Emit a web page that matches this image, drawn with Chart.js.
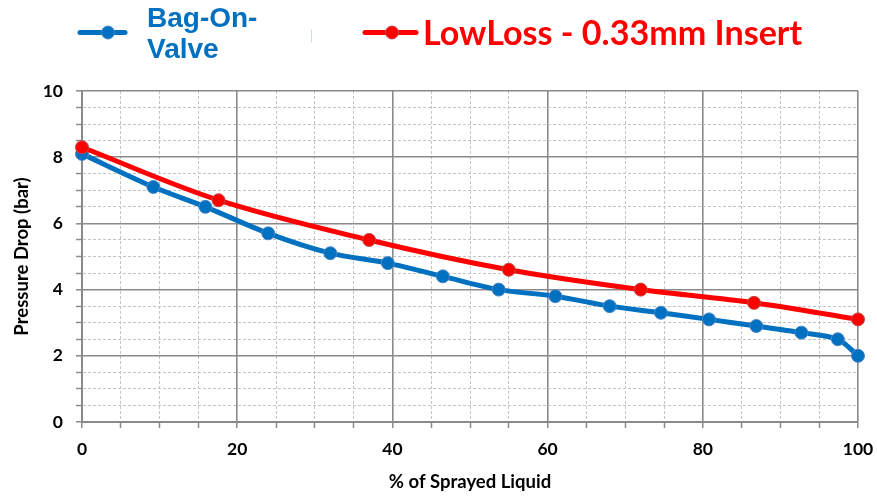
<!DOCTYPE html>
<html>
<head>
<meta charset="utf-8">
<script src="https://cdn.jsdelivr.net/npm/chart.js@4/dist/chart.umd.min.js"></script>
<style>
  html, body { margin: 0; padding: 0; background: #ffffff; }
  #wrap { position: relative; width: 877px; height: 498px; }
</style>
</head>
<body>
<div id="wrap"><canvas id="c" width="877" height="498"></canvas></div>
<script>
// ---- data ----
const seriesNames = ["Bag-On-Valve", "LowLoss - 0.33mm Insert"];
const bovX = [0, 9.2, 15.9, 24.0, 32.0, 39.4, 46.5, 53.7, 61.0, 68.0, 74.6, 80.8, 86.9, 92.7, 97.4, 100];
const bovY = [8.1, 7.1, 6.5, 5.7, 5.1, 4.8, 4.4, 4.0, 3.8, 3.5, 3.3, 3.1, 2.9, 2.7, 2.5, 2.0];
const llX = [0, 17.6, 37.0, 55.0, 72.0, 86.6, 100];
const llY = [8.3, 6.7, 5.5, 4.6, 4.0, 3.6, 3.1];
const xTitle = "% of Sprayed Liquid";
const yTitle = "Pressure Drop (bar)";

const BLUE = "#0070C0";
const RED = "#FF0000";
const MAJOR = "#8a8a8a";
const MINOR = "#c4c4c4";
const FONT = "Lato, 'Open Sans', sans-serif";

const toPts = (xs, ys) => xs.map((x, i) => ({ x: x, y: ys[i] }));

// custom legend drawn at top
const topLegend = {
  id: "topLegend",
  afterDraw(chart) {
    const ctx = chart.ctx;
    ctx.save();
    // Bag-On-Valve
    ctx.lineCap = "round";
    ctx.strokeStyle = BLUE; ctx.lineWidth = 5;
    ctx.beginPath(); ctx.moveTo(80, 32.5); ctx.lineTo(125, 32.5); ctx.stroke();
    ctx.fillStyle = BLUE; ctx.strokeStyle = "#4d86c6"; ctx.lineWidth = 1;
    ctx.beginPath(); ctx.arc(108, 32.5, 6.5, 0, Math.PI * 2); ctx.fill(); ctx.stroke();
    ctx.fillStyle = BLUE;
    ctx.font = "bold 28px 'Liberation Sans', Arial, sans-serif";
    ctx.textBaseline = "alphabetic"; ctx.textAlign = "left";
    ctx.fillText("Bag-On-", 147, 27);
    ctx.fillText("Valve", 147, 58);
    // faint separator
    ctx.strokeStyle = "#c9dbee"; ctx.lineWidth = 1;
    ctx.beginPath(); ctx.moveTo(311.5, 30); ctx.lineTo(311.5, 42); ctx.stroke();
    // LowLoss
    ctx.strokeStyle = RED; ctx.lineWidth = 5; ctx.lineCap = "round";
    ctx.beginPath(); ctx.moveTo(365, 32.5); ctx.lineTo(416, 32.5); ctx.stroke();
    ctx.fillStyle = RED; ctx.strokeStyle = "#b84a48"; ctx.lineWidth = 1;
    ctx.beginPath(); ctx.arc(392, 32.5, 6.5, 0, Math.PI * 2); ctx.fill(); ctx.stroke();
    const txt = seriesNames[1];
    let size = 34;
    ctx.font = "bold " + size + "px " + FONT;
    const w = ctx.measureText(txt).width;
    size = size * 380 / w;
    ctx.font = "bold " + size.toFixed(1) + "px " + FONT;
    ctx.fillStyle = RED;
    ctx.fillText(txt, 423, 45);
    ctx.restore();
  }
};

new Chart(document.getElementById("c"), {
  type: "line",
  data: {
    datasets: [
      {
        label: seriesNames[0],
        data: toPts(bovX, bovY),
        borderColor: BLUE,
        backgroundColor: BLUE,
        borderWidth: 5,
        pointRadius: 6.5,
        pointHoverRadius: 6.5,
        pointBackgroundColor: BLUE,
        pointBorderColor: "#4d86c6",
        pointBorderWidth: 1,
        tension: 0.3,
        clip: false,
        order: 2
      },
      {
        label: seriesNames[1],
        data: toPts(llX, llY),
        borderColor: RED,
        backgroundColor: RED,
        borderWidth: 5,
        pointRadius: 6.5,
        pointHoverRadius: 6.5,
        pointBackgroundColor: RED,
        pointBorderColor: "#b84a48",
        pointBorderWidth: 1,
        tension: 0.35,
        clip: false,
        order: 1
      }
    ]
  },
  options: {
    responsive: false,
    animation: false,
    devicePixelRatio: 1,
    layout: { padding: { top: 91, right: 19, left: 0, bottom: 0 } },
    plugins: { legend: { display: false }, tooltip: { enabled: false } },
    scales: {
      x: {
        type: "linear",
        min: 0, max: 100,
        afterFit(s) { s.height = 76; s.paddingRight = 0; s.paddingLeft = 0; },
        ticks: {
          stepSize: 5,
          autoSkip: false,
          maxRotation: 0,
          padding: 11,
          color: "#000",
          font: { family: FONT, size: 17.5, weight: "bold" },
          callback: v => (v % 20 === 0 ? String(v) : "")
        },
        grid: {
          color: c => (c.tick && c.tick.value % 20 !== 0 ? MINOR : MAJOR),
          lineWidth: c => (c.tick && c.tick.value % 20 !== 0 ? 1 : 1.6),
          tickColor: MAJOR,
          tickLength: 6,
          tickWidth: 1.5
        },
        border: {
          color: MAJOR, width: 2,
          dash: c => (c.tick && c.tick.value % 20 !== 0 ? [3, 2] : [])
        },
        title: {
          display: true, text: xTitle, color: "#000",
          font: { family: FONT, size: 18.5, weight: "bold" },
          padding: { top: 0, bottom: 5 }
        }
      },
      y: {
        type: "linear",
        min: 0, max: 10,
        afterFit(s) { s.width = 82; },
        ticks: {
          stepSize: 0.5,
          autoSkip: false,
          padding: 13,
          color: "#000",
          font: { family: FONT, size: 17.5, weight: "bold" },
          callback: v => (Math.abs(v / 2 - Math.round(v / 2)) < 1e-9 ? String(v) : "")
        },
        grid: {
          color: c => (c.tick && Math.abs(c.tick.value / 2 - Math.round(c.tick.value / 2)) > 1e-9 ? MINOR : MAJOR),
          lineWidth: c => (c.tick && Math.abs(c.tick.value / 2 - Math.round(c.tick.value / 2)) > 1e-9 ? 1 : 1.6),
          tickColor: MAJOR,
          tickLength: 6,
          tickWidth: 1.5
        },
        border: {
          color: MAJOR, width: 2,
          dash: c => (c.tick && Math.abs(c.tick.value / 2 - Math.round(c.tick.value / 2)) > 1e-9 ? [3, 2] : [])
        },
        title: {
          display: true, text: yTitle, color: "#000",
          font: { family: FONT, size: 18.5, weight: "bold" },
          padding: { top: 11, bottom: 0 }
        }
      }
    }
  },
  plugins: [topLegend]
});
</script>
</body>
</html>
